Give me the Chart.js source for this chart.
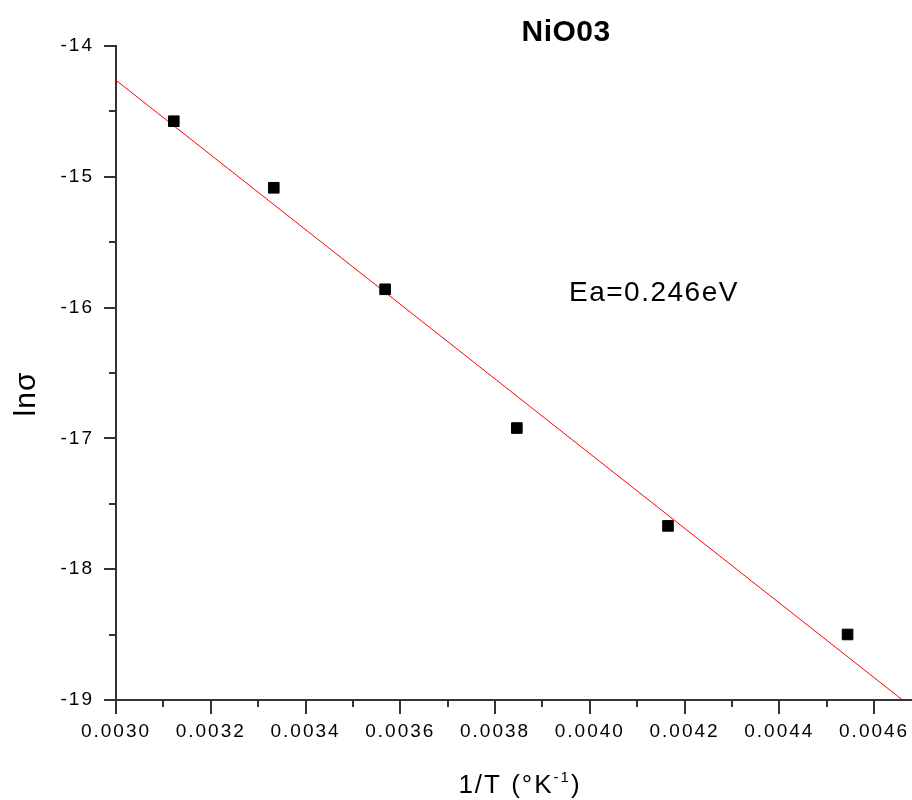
<!DOCTYPE html>
<html lang="en">
<head>
<meta charset="UTF-8">
<title>NiO03</title>
<script src="https://cdn.jsdelivr.net/npm/chart.js"></script>
<style>
  html, body { margin: 0; padding: 0; background: #fff; }
  #wrap { width: 912px; height: 800px; }
</style>
</head>
<body>
<div id="wrap"><canvas id="arrhenius" width="912" height="800"></canvas></div>

<script>
// measured points, 1/T (K^-1) against ln(sigma)
const invT = [0.003122, 0.003333, 0.003568, 0.003846, 0.004165, 0.004544];
const lnSigma = [-14.575, -15.084, -15.860, -16.921, -17.669, -18.499];

// ends of the fitted straight line
const fitInvT = [0.0030, 0.00466];
const fitLnSigma = [-14.262, -19.0];

// axis ticks (minor ticks sit half way between)
const xTicks = [0.0030, 0.0032, 0.0034, 0.0036, 0.0038, 0.0040, 0.0042, 0.0044, 0.0046];
const yTicks = [-19, -18, -17, -16, -15, -14];

const chartTitle = 'NiO03';
const noteText = 'Ea=0.246eV';

const FONT = 'Arial, "Liberation Sans", sans-serif';
const AXIS = '#333';

function midpoints(arr) {
    const out = [];
    for (let i = 0; i < arr.length - 1; i++) out.push((arr[i] + arr[i + 1]) / 2);
    return out;
}

// tick marks, title, note and axis titles
const decor = {
    id: 'decor',
    beforeDraw(chart) {
        chart.ctx.letterSpacing = '2px';
    },
    afterDraw(chart) {
        const {ctx, chartArea, scales: {x, y}} = chart;
        ctx.save();
        ctx.strokeStyle = AXIS;
        ctx.lineWidth = 2;
        ctx.beginPath();
        xTicks.forEach(v => {
            const px = Math.round(x.getPixelForValue(v));
            ctx.moveTo(px, chartArea.bottom);
            ctx.lineTo(px, chartArea.bottom + 14);
        });
        midpoints(xTicks).forEach(v => {
            const px = Math.round(x.getPixelForValue(v));
            ctx.moveTo(px, chartArea.bottom);
            ctx.lineTo(px, chartArea.bottom + 7);
        });
        yTicks.forEach(v => {
            const py = Math.round(y.getPixelForValue(v));
            ctx.moveTo(chartArea.left, py);
            ctx.lineTo(chartArea.left - 12, py);
        });
        midpoints(yTicks).forEach(v => {
            const py = Math.round(y.getPixelForValue(v));
            ctx.moveTo(chartArea.left, py);
            ctx.lineTo(chartArea.left - 7, py);
        });
        ctx.stroke();

        ctx.fillStyle = '#000';
        ctx.textBaseline = 'alphabetic';

        // title
        ctx.letterSpacing = '0.5px';
        ctx.font = 'bold 30px ' + FONT;
        ctx.textAlign = 'center';
        ctx.fillText(chartTitle, x.getPixelForValue(0.00395), chartArea.top - 5);

        // activation energy note
        ctx.letterSpacing = '1.5px';
        ctx.font = '28px ' + FONT;
        ctx.textAlign = 'left';
        ctx.fillText(noteText, x.getPixelForValue(0.003956), y.getPixelForValue(-15.947));

        // y title
        ctx.save();
        ctx.letterSpacing = '1px';
        ctx.font = '30px ' + FONT;
        ctx.translate(chartArea.left - 81, 394);
        ctx.rotate(-Math.PI / 2);
        ctx.textAlign = 'center';
        ctx.fillText('lnσ', 0, 0);
        ctx.restore();

        // x title with superscript
        ctx.letterSpacing = '2px';
        ctx.textAlign = 'left';
        const big = '26px ' + FONT, small = '15px ' + FONT;
        const parts = [['1/T (°K', big, 0], ['-1', small, -11], [')', big, 0]];
        let total = 0;
        parts.forEach(p => { ctx.font = p[1]; total += ctx.measureText(p[0]).width; });
        let cx = 520 - total / 2;
        const base = 793;
        parts.forEach(p => {
            ctx.font = p[1];
            ctx.fillText(p[0], cx, base + p[2]);
            cx += ctx.measureText(p[0]).width;
        });
        ctx.restore();
    }
};

const ctx = document.getElementById('arrhenius');

new Chart(ctx, {
    type: 'scatter',
    data: {
        datasets: [{
            label: 'measured',
            data: invT.map((v, i) => ({x: v, y: lnSigma[i]})),
            pointStyle: 'rect',
            pointRadius: 7.5,
            backgroundColor: '#000',
            borderColor: '#000',
            borderWidth: 1,
            order: 0
        }, {
            label: 'fit',
            data: fitInvT.map((v, i) => ({x: v, y: fitLnSigma[i]})),
            showLine: true,
            pointRadius: 0,
            borderColor: '#ff0000',
            borderWidth: 1,
            order: 1
        }]
    },
    options: {
        responsive: false,
        animation: false,
        events: [],
        layout: {autoPadding: false, padding: {top: 46, left: 0, right: 0, bottom: 0}},
        plugins: {
            legend: {display: false},
            tooltip: {enabled: false},
            title: {display: false}
        },
        scales: {
            x: {
                type: 'linear',
                min: 0.0030,
                max: 0.00468,
                afterBuildTicks: s => { s.ticks = xTicks.map(v => ({value: v})); },
                afterFit: s => {
                    s.height = 100;
                    s.paddingLeft = 0;
                    s.paddingRight = 0;
                },
                grid: {display: false, drawTicks: false},
                border: {display: true, color: AXIS, width: 2},
                ticks: {
                    padding: 20,
                    color: '#000',
                    maxRotation: 0,
                    autoSkip: false,
                    font: {family: FONT, size: 19},
                    callback: v => v.toFixed(4)
                }
            },
            y: {
                type: 'linear',
                min: -19,
                max: -14,
                afterBuildTicks: s => { s.ticks = yTicks.map(v => ({value: v})); },
                afterFit: s => {
                    s.width = 116;
                    s.paddingTop = 0;
                    s.paddingBottom = 0;
                },
                grid: {display: false, drawTicks: false},
                border: {display: true, color: AXIS, width: 2},
                ticks: {
                    padding: 22,
                    color: '#000',
                    font: {family: FONT, size: 19},
                    callback: v => String(v)
                }
            }
        }
    },
    plugins: [decor]
});
</script>
</body>
</html>
